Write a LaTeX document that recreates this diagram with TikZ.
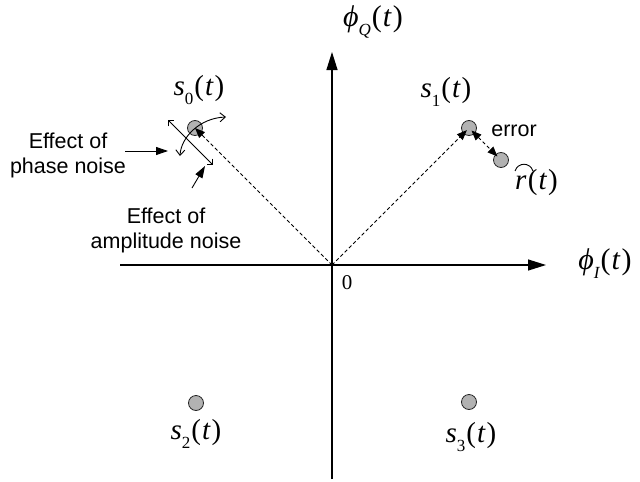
\documentclass[tikz,border=0pt]{standalone}
\usepackage{fontspec}
\setmainfont{Liberation Serif}
\newfontfamily\arialf{Liberation Sans}
\usetikzlibrary{arrows.meta}
\newcommand{\lowsub}[1]{\raisebox{-0.3em}{\fontsize{17}{17}\selectfont #1}}
\newcommand{\sv}[1]{{\itshape s}\lowsub{#1}\kern1pt(\kern1pt\textit{t}\kern1pt)}
\newcommand{\phv}[1]{\textit{ϕ}\lowsub{\itshape #1}\kern1pt(\kern1pt\textit{t}\kern1pt)}
\begin{document}
\begin{tikzpicture}[x=1pt,y=-1pt,
  axis/.style={line width=1.2pt,-{Triangle[length=18pt,width=11pt]}},
  dashvec/.style={line width=0.9pt,dash pattern=on 3.5pt off 2.5pt},
  tipf/.style={-{Triangle[length=10pt,width=8pt]}},
  pt/.style={circle,draw=black!85,fill=black!30,line width=0.8pt,minimum size=15pt,inner sep=0pt},
  sans/.style={font=\arialf\fontsize{21.5}{25}\selectfont,align=center,inner sep=0pt},
  mathl/.style={font=\fontsize{29}{33}\selectfont,inner sep=0pt},
  phil/.style={font=\fontsize{30}{34}\selectfont,inner sep=0pt},
  pointer/.style={line width=0.9pt,-{Triangle[length=12pt,width=8pt]}},
  ampn/.style={line width=0.9pt,{Straight Barb[angle=90:6pt]}-{Straight Barb[angle=90:6pt]}},
  phn/.style={line width=0.9pt,{Straight Barb[angle=80:7pt]}-{Straight Barb[angle=80:7pt]}}
]
\useasboundingbox (0,0) rectangle (640,482);
% axes
\coordinate (O) at (332,265);
\coordinate (xL) at (120,265);
\coordinate (xR) at (546,265);
\coordinate (yB) at (332,479);
\coordinate (yT) at (332,52);
\draw[axis] (xL) -- (xR);
\draw[axis] (yB) -- (yT);
% constellation points
\node[pt] (s0) at (195,128) {};
\node[pt] (s1) at (469,128) {};
\node[pt] (s2) at (196,403) {};
\node[pt] (s3) at (469,402) {};
\node[pt] (r) at (501,160) {};
% vectors
\draw[dashvec,tipf] (O) -- (s0.center);
\draw[dashvec,tipf,shorten >=3pt] (O) -- (s1.center);
\draw[dashvec,{Triangle[length=10pt,width=8pt]}-{Triangle[length=10pt,width=8pt]},shorten <=3.5pt,shorten >=5pt] (s1.center) -- (r.center);
% noise indicators
\coordinate (pa) at (180,156);
\coordinate (pb) at (226,117);
\draw[phn] (pa) .. controls (181,137) and (200,118) .. (pb);
\coordinate (aa) at (168,120);
\coordinate (ab) at (213,165);
\draw[ampn] (aa) -- (ab);
% labels
\node[mathl] (l0) at (199,90) {\sv{0}};
\node[mathl] (l1) at (446,92) {\sv{1}};
\node[mathl] (l2) at (196,434) {\sv{2}};
\node[mathl] (l3) at (471,437) {\sv{3}};
\node[phil] (lq) at (373,22) {\phv{Q}};
\node[phil] (li) at (605,264) {\phv{I}};
\node[font=\fontsize{21}{24}\selectfont,inner sep=0pt] (zero) at (347,283) {0};
\node[sans] (err) at (514,131) {error};
\node[mathl,anchor=base west] (rr) at (515,189) {\itshape r};
\node[mathl,anchor=base west] (rt) at (rr.base east) {\kern1pt(\kern1pt\textit{t}\kern1pt)};
\coordinate (h1) at (515,171);
\coordinate (h2) at (533,171);
\draw[line width=0.9pt] (h1) .. controls (518,162) and (530,162) .. (h2);
\node[sans] (ph) at (68,155) {Effect of\\phase noise};
\node[sans] (am) at (166,230) {Effect of\\amplitude noise};
\coordinate (p1) at (125,151);
\coordinate (p2) at (168,151);
\draw[pointer] (p1) -- (p2);
\coordinate (q1) at (192,188);
\coordinate (q2) at (205,166);
\draw[pointer] (q1) -- (q2);
\end{tikzpicture}
\end{document}
